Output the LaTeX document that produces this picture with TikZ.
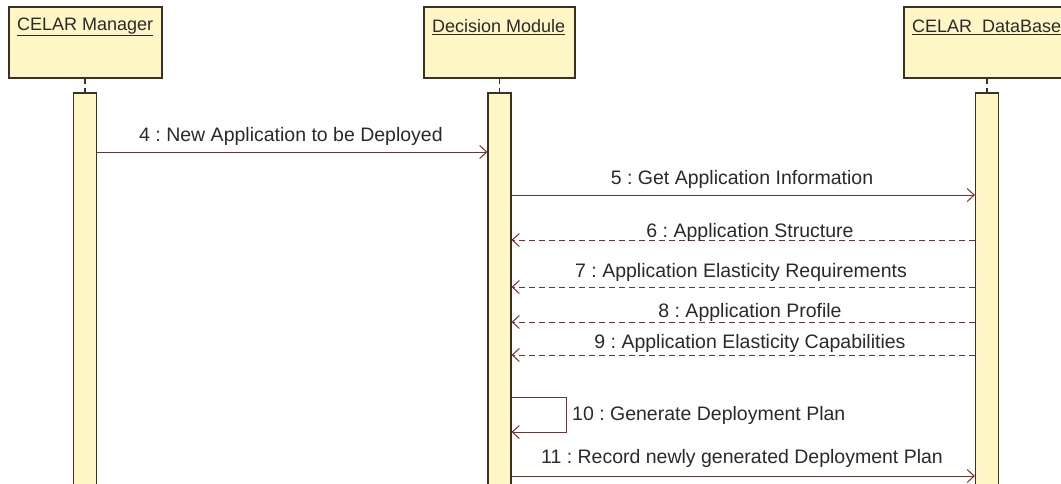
\documentclass[tikz,border=0pt]{standalone}
\usepackage{fontspec}
\setmainfont{Liberation Sans}
\frenchspacing
\usetikzlibrary{arrows.meta}
\definecolor{boxfill}{HTML}{FFF6C6}
\definecolor{boxline}{HTML}{3C3020}
\definecolor{msg}{HTML}{7A2E2E}
\definecolor{txt}{HTML}{2A2A2A}
\tikzset{
 objbox/.style={draw=boxline, fill=boxfill, line width=1.2pt, minimum height=71pt, inner sep=0pt},
 actbar/.style={draw=boxline, fill=boxfill, line width=1.2pt, minimum width=23pt, minimum height=400pt, inner sep=0pt},
 title/.style={text=txt, font=\fontsize{18}{20}\selectfont, anchor=west, inner sep=0pt},
 lbl/.style={text=txt, font=\fontsize{19.5}{21}\selectfont, inner sep=0pt},
 call/.style={draw=msg, line width=1pt, -{Straight Barb[length=7pt,width=13pt]}},
 reply/.style={call, dash pattern=on 6pt off 4pt},
 life/.style={draw=boxline, line width=1.2pt, dash pattern=on 5pt off 4pt}
}
\begin{document}
\begin{tikzpicture}[x=1pt,y=-1pt]
\useasboundingbox (0,0) rectangle (1061,483);
\clip (0,0) rectangle (1061,483);
\fill[white] (0,0) rectangle (1061,483);
% objects
\node[objbox, minimum width=153pt] (o1) at (85.5,42.5) {};
\node[objbox, minimum width=151pt] (o2) at (499.5,42.5) {};
\node[objbox, minimum width=168pt] (o3) at (988,42.5) {};
\node[title] (t1) at (17,27) {\underline{CELAR Manager}};
\node[title] (t2) at (432,27) {\underline{Decision Module}};
\node[title] (t3) at (912,27) {\underline{CELAR~~DataBase}};
% activation bars
\node[actbar] (b1) at (85,293) {};
\node[actbar] (b2) at (499.5,293) {};
\node[actbar] (b3) at (987,293) {};
% lifelines
\draw[life] (o1.south -| b1.north) -- (b1.north);
\draw[life] (o2.south -| b2.north) -- (b2.north);
\draw[life] (o3.south -| b3.north) -- (b3.north);
% message end points
\coordinate (m4a) at (b1.east |- 0,152);
\coordinate (m4b) at (b2.west |- 0,152);
\coordinate (m5a) at (b2.east |- 0,195);
\coordinate (m5b) at (b3.west |- 0,195);
\coordinate (m6a) at (b3.west |- 0,240);
\coordinate (m6b) at (b2.east |- 0,240);
\coordinate (m7a) at (b3.west |- 0,287);
\coordinate (m7b) at (b2.east |- 0,287);
\coordinate (m8a) at (b3.west |- 0,322);
\coordinate (m8b) at (b2.east |- 0,322);
\coordinate (m9a) at (b3.west |- 0,355);
\coordinate (m9b) at (b2.east |- 0,355);
\coordinate (m10a) at (b2.east |- 0,397);
\coordinate (m10b) at (b2.east |- 0,432);
\coordinate (m11a) at (b2.east |- 0,476);
\coordinate (m11b) at (b3.west |- 0,476);
% messages
\draw[call] (m4a) -- (m4b);
\draw[call] (m5a) -- (m5b);
\draw[reply] (m6a) -- (m6b);
\draw[reply] (m7a) -- (m7b);
\draw[reply] (m8a) -- (m8b);
\draw[reply] (m9a) -- (m9b);
\draw[call] (m10a) -- ++(55,0) |- (m10b);
\draw[call] (m11a) -- (m11b);
% labels
\node[lbl] (l4) at (291,136) {4 : New Application to be Deployed};
\node[lbl] (l5) at (742,179) {5 : Get Application Information};
\node[lbl] (l6) at (750,232) {6 : Application Structure};
\node[lbl] (l7) at (741,272) {7 : Application Elasticity Requirements};
\node[lbl] (l8) at (750,312) {8 : Application Profile};
\node[lbl] (l9) at (750,343) {9 : Application Elasticity Capabilities};
\node[lbl, anchor=west] (l10) at (572,415) {10 : Generate Deployment Plan};
\node[lbl] (l11) at (742,458) {11 : Record newly generated Deployment Plan};
\end{tikzpicture}
\end{document}
